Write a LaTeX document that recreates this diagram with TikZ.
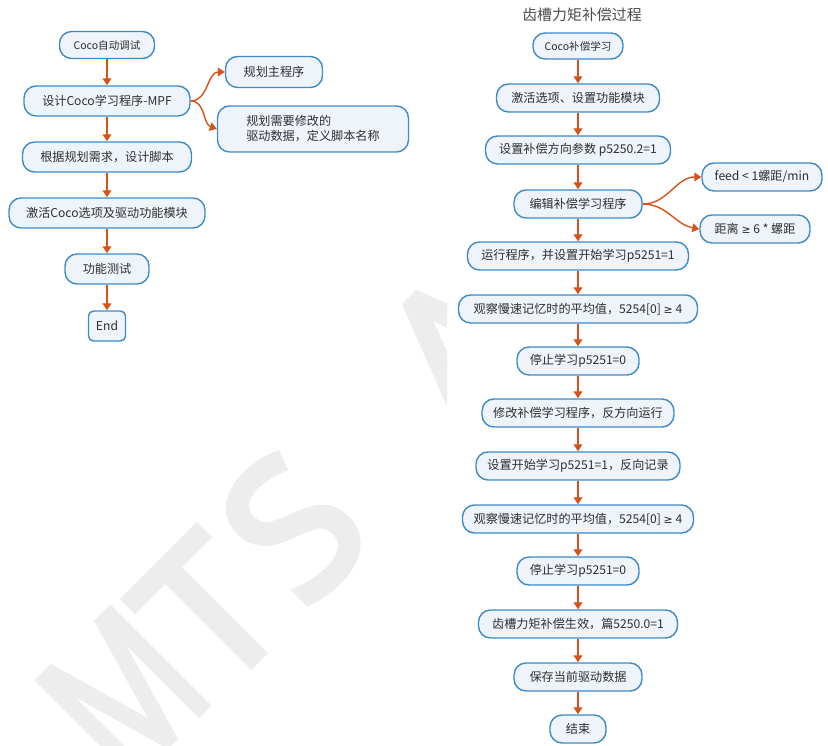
\documentclass[tikz,border=0pt]{standalone}
\usepackage{fontspec}
\setmainfont{Noto Sans CJK SC}
\newfontfamily\markfont[FakeBold=3.5]{Noto Sans}
\newfontfamily\symfont[Scale=0.9]{DejaVu Sans}
\usetikzlibrary{arrows.meta}
\definecolor{boxline}{HTML}{3D8AC9}
\definecolor{boxfill}{HTML}{EEF4FA}
\definecolor{linkline}{HTML}{D5531B}
\definecolor{txtgray}{HTML}{2E2E2E}
\definecolor{titlegray}{HTML}{4D4D4D}
\definecolor{markgray}{HTML}{EDEDED}
\newcommand{\geqsym}{{\symfont ≥}}
\tikzset{
	flowbox/.style={draw=boxline, fill=boxfill, line width=0.8pt, rounded corners=0.24cm,
		minimum height=0.56cm, inner sep=0pt, text=txtgray, font=\fontsize{6.9}{8.5}\selectfont},
	smallbox/.style={flowbox, font=\fontsize{6}{7}\selectfont},
	flowarrow/.style={-{Triangle[length=4pt,width=5pt]}, draw=linkline, line width=0.8pt},
	markletter/.style={rotate=45, inner sep=0pt, text=markgray, font=\markfont\fontsize{109}{109}\selectfont},
}
\begin{document}
\begin{tikzpicture}[x=0.02cm,y=-0.02cm]
			\useasboundingbox (0,0) rectangle (828,746);
			%Watermark
			\begin{scope}
				\clip (0,0) rectangle (447,746);
				\node[markletter] (markm) at (123,693) {\scalebox{0.75}[1]{M}};
				\node[markletter] (markt) at (209,611) {T};
				\node[markletter] (marks) at (293,527) {S};
				\node[markletter] (marka) at (460,348) {A};
			\end{scope}
			%Coco auto tuning
			\node[smallbox, minimum width=1.9cm, minimum height=0.54cm] (tstart) at (107,45) {Coco自动调试};
			\node[flowbox, minimum width=3.32cm, minimum height=0.6cm] (tmpf) at (107,101) {设计Coco学习程序-MPF};
			\node[flowbox, minimum width=1.94cm, minimum height=0.62cm] (tmain) at (274,72) {规划主程序};
			\node[flowbox, minimum width=3.82cm, minimum height=0.92cm, align=left] (tdata) at (313,129) {规划需要修改的\\驱动数据，定义脚本名称};
			\node[flowbox, minimum width=3.38cm, minimum height=0.6cm] (tscript) at (107,157) {根据规划需求，设计脚本};
			\node[flowbox, minimum width=3.92cm, minimum height=0.6cm] (tactive) at (107,213) {激活Coco选项及驱动功能模块};
			\node[flowbox, minimum width=1.68cm, minimum height=0.6cm] (ttest) at (107,269) {功能测试};
			\node[flowbox, rounded corners=0.1cm, minimum width=0.74cm, minimum height=0.6cm] (tend) at (107,326) {End};
			%Arrows left
			\draw[flowarrow] (tstart) -- (tmpf);
			\draw[flowarrow] (tmpf) -- (tscript);
			\draw[flowarrow] (tscript) -- (tactive);
			\draw[flowarrow] (tactive) -- (ttest);
			\draw[flowarrow] (ttest) -- (tend);
			\draw[flowarrow] (tmpf.east) to[out=0, in=180] (tmain.west);
			\draw[flowarrow] (tmpf.east) to[out=0, in=160] (tdata.west);
			%Cogging torque compensation
			\node[text=titlegray, font=\fontsize{8.5}{10}\selectfont] (ctitle) at (582,15) {齿槽力矩补偿过程};
			\node[smallbox, minimum width=1.8cm, minimum height=0.52cm] (cstart) at (578,46) {Coco补偿学习};
			\node[flowbox, minimum width=3.26cm] (cactive) at (578,98) {激活选项、设置功能模块};
			\node[flowbox, minimum width=3.7cm] (cdir) at (578,150) {设置补偿方向参数 p5250.2=1};
			\node[flowbox, minimum width=2.56cm] (cedit) at (578,204) {编辑补偿学习程序};
			\node[flowbox, minimum width=2.4cm] (cfeed) at (762,177) {feed < 1螺距/min};
			\node[flowbox, minimum width=2.2cm] (cdist) at (755,229) {距离 \geqsym{} 6 * 螺距};
			\node[flowbox, minimum width=4.42cm] (crun) at (578,256) {运行程序，并设置开始学习p5251=1};
			\node[flowbox, minimum width=4.78cm] (cwatch) at (578,309) {观察慢速记忆时的平均值，5254[0] \geqsym{} 4};
			\node[flowbox, minimum width=2.44cm] (cstop) at (578,361) {停止学习p5251=0};
			\node[flowbox, minimum width=3.84cm] (crev) at (578,413) {修改补偿学习程序，反方向运行};
			\node[flowbox, minimum width=4.08cm] (crec) at (578,466) {设置开始学习p5251=1，反向记录};
			\node[flowbox, minimum width=4.62cm] (cwatchb) at (578,519) {观察慢速记忆时的平均值，5254[0] \geqsym{} 4};
			\node[flowbox, minimum width=2.44cm] (cstopb) at (578,571) {停止学习p5251=0};
			\node[flowbox, minimum width=3.98cm] (con) at (578,624) {齿槽力矩补偿生效，篇5250.0=1};
			\node[flowbox, minimum width=2.56cm] (csave) at (578,677) {保存当前驱动数据};
			\node[flowbox, minimum width=1.12cm] (cend) at (578,729) {结束};
			%Arrows right
			\draw[flowarrow] (cstart) -- (cactive);
			\draw[flowarrow] (cactive) -- (cdir);
			\draw[flowarrow] (cdir) -- (cedit);
			\draw[flowarrow] (cedit) -- (crun);
			\draw[flowarrow] (crun) -- (cwatch);
			\draw[flowarrow] (cwatch) -- (cstop);
			\draw[flowarrow] (cstop) -- (crev);
			\draw[flowarrow] (crev) -- (crec);
			\draw[flowarrow] (crec) -- (cwatchb);
			\draw[flowarrow] (cwatchb) -- (cstopb);
			\draw[flowarrow] (cstopb) -- (con);
			\draw[flowarrow] (con) -- (csave);
			\draw[flowarrow] (csave) -- (cend);
			\draw[flowarrow] (cedit.east) to[out=0, in=180] (cfeed.west);
			\draw[flowarrow] (cedit.east) to[out=0, in=170] (cdist.west);
\end{tikzpicture}
\end{document}
